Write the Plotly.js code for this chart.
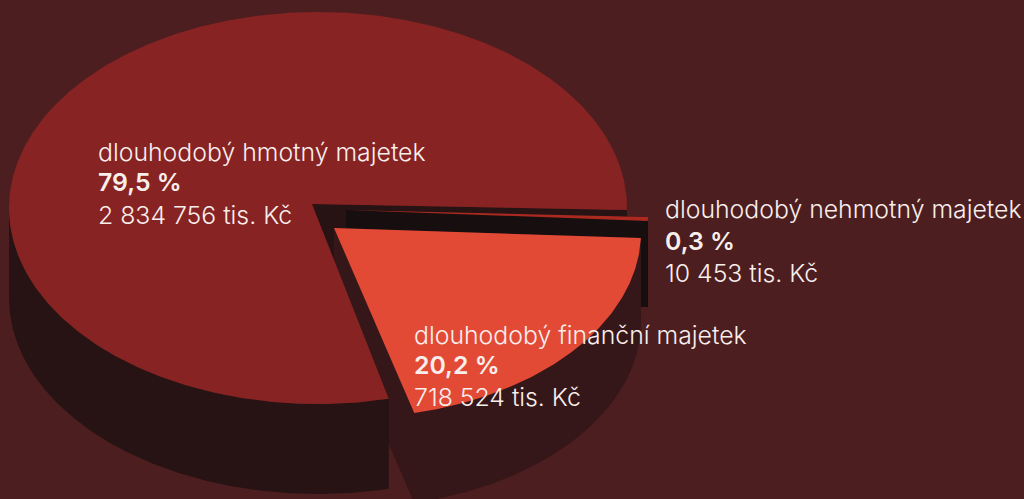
<!DOCTYPE html>
<html><head><meta charset="utf-8">
<script src="https://cdn.plot.ly/plotly-3.0.1.min.js"></script>
<style>html,body{margin:0;padding:0;background:#4d1e1f;overflow:hidden}</style>
</head><body><div id="chart" style="width:1024px;height:499px"></div>
<script>
(function () {
const names = ["dlouhodobý nehmotný majetek", "dlouhodobý finanční majetek", "dlouhodobý hmotný majetek"];
const amounts = [10453, 718524, 2834756];
const shareLabels = ["0,3 %", "20,2 %", "79,5 %"];
const amountLabels = ["10 453 tis. Kč", "718 524 tis. Kč", "2 834 756 tis. Kč"];

const total = amounts.reduce((a, b) => a + b, 0);
const startAngle = 0.5, warp = 5, depth = 90;
const R = Math.PI / 180;
const shown = u => u + warp * Math.sin(2 * u * R);

// geometry of each exploded slice: apex, ellipse centre and radii
const geom = [
  {ax: 346, ay: 210, cx: 352, cy: 215, rx: 296, ry: 186, top: "#ab2a20", wall: "#170e10", labelX: 665, labelY: [209, 241, 273]},
  {ax: 334, ay: 228, cx: 347, cy: 232, rx: 294, ry: 186, top: "#e24a36", wall: "#361719", labelX: 414, labelY: [335, 365, 397]},
  {ax: 312, ay: 204, cx: 318, cy: 208, rx: 309, ry: 196, top: "#872322", wall: "#271314", labelX: 98, labelY: [152, 182, 215]}
];

let a = startAngle;
const sl = amounts.map((v, i) => {
  const s = {...geom[i], t0: a, t1: a + v / total * 360};
  a = s.t1;
  return s;
});

function arc(g, from, to, dy) {
  const n = Math.max(2, Math.ceil(Math.abs(to - from) * 2)), xs = [], ys = [];
  for (let k = 0; k <= n; k++) {
    const t = shown(from + (to - from) * k / n) * R;
    xs.push(g.cx + g.rx * Math.cos(t));
    ys.push(g.cy + g.ry * Math.sin(t) + (dy || 0));
  }
  return [xs, ys];
}
function poly(x, y, color, name) {
  return {type: "scatter", mode: "lines", x: x.concat(x[0]), y: y.concat(y[0]), fill: "toself",
    fillcolor: color, line: {width: 0, color: color}, hoverinfo: "skip", showlegend: false, name};
}
function topFace(g) {
  const [x, y] = arc(g, g.t0, g.t1);
  return poly([g.ax, ...x], [g.ay, ...y], g.top, "top");
}
function face(g, t, color) {
  const [x, y] = arc(g, t, t);
  const ex = x[0], ey = y[0];
  return poly([g.ax, ex, ex, g.ax], [g.ay, ey, ey + depth, g.ay + depth], color || g.wall, "face");
}
function outer(g, from, to) {
  const [x, y] = arc(g, from, to), [xb, yb] = arc(g, from, to, depth);
  return poly(x.concat(xb.reverse()), y.concat(yb.reverse()), g.wall, "outer");
}

const [small, fin, main] = sl;
const traces = [
  face(main, main.t1),
  face(small, small.t0),
  outer(small, small.t0, small.t1),
  face(fin, fin.t1),
  outer(fin, fin.t0, fin.t1),
  face(fin, fin.t0),
  outer(main, main.t0, 180),
  topFace(main), topFace(small), topFace(fin)
];

const annotations = [];
sl.forEach((g, i) => {
  [[names[i], 300], [shareLabels[i], 600], [amountLabels[i], 300]].forEach(([text, w], r) => {
    annotations.push({xref: "x", yref: "y", x: g.labelX, y: g.labelY[r], xanchor: "left", yanchor: "middle",
      showarrow: false, borderpad: 0, borderwidth: 0,
      text: text,
      font: {family: "Inter, Liberation Sans, sans-serif", size: 24.8, weight: w, color: "#f8efed"}});
  });
});

Plotly.newPlot("chart", traces, {
  width: 1024, height: 499, margin: {l: 0, r: 0, t: 0, b: 0},
  paper_bgcolor: "#4d1e1f", plot_bgcolor: "#4d1e1f",
  xaxis: {range: [0, 1024], visible: false, fixedrange: true},
  yaxis: {range: [499, 0], visible: false, fixedrange: true},
  annotations, showlegend: false, hovermode: false
}, {displayModeBar: false, staticPlot: true});
})();
</script></body></html>
